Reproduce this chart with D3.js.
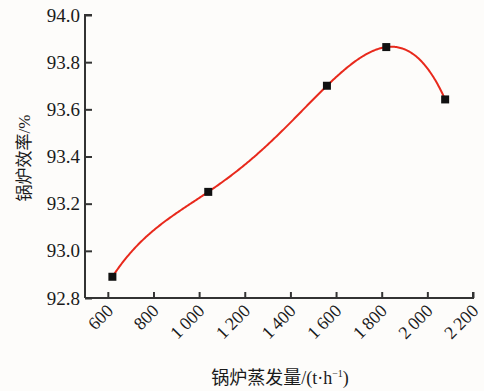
<!DOCTYPE html>
<html lang="zh">
<head>
<meta charset="UTF-8">
<title>锅炉效率</title>
<script src="https://d3js.org/d3.v7.min.js"></script>
<style>
    body { margin: 0; background: #fdfcfa; }
    svg text { font-family: "Liberation Serif", "Times New Roman", serif; fill: #1a1a1a; }
    svg text.cjk { font-family: "Liberation Serif", "Noto Sans CJK SC", serif; }
</style>
</head>
<body>
<script>
    // data
    const steam = [620, 1040, 1560, 1820, 2078]
    const efficiency = [92.89, 93.25, 93.70, 93.864, 93.642]
    const xTicks = [600, 800, 1000, 1200, 1400, 1600, 1800, 2000, 2200]
    const yTicks = [92.8, 93.0, 93.2, 93.4, 93.6, 93.8, 94.0]

    const width = 484, height = 391
    const plot = { left: 85, right: 473, top: 15, bottom: 298 }

    const x = d3.scaleLinear().domain([500, 2200]).range([plot.left, plot.right])
    const y = d3.scaleLinear().domain([92.8, 94.0]).range([plot.bottom, plot.top])

    const fmtX = d => d >= 1000 ? Math.floor(d / 1000) + "\u2009" + d3.format("03d")(d % 1000) : d

    // curve factory: one polynomial through all the points (like the source plot)
    function curvePoly(context) {
        let pts = []
        return {
            lineStart() { pts = [] },
            lineEnd() {
                const n = pts.length
                const f = t => {
                    let s = 0
                    for (let i = 0; i < n; i++) {
                        let l = 1
                        for (let j = 0; j < n; j++) if (j !== i) l *= (t - pts[j][0]) / (pts[i][0] - pts[j][0])
                        s += l * pts[i][1]
                    }
                    return s
                }
                const x0 = pts[0][0], x1 = pts[n - 1][0]
                context.moveTo(x0, pts[0][1])
                for (let t = x0 + 1; t < x1; t += 1) context.lineTo(t, f(t))
                context.lineTo(x1, pts[n - 1][1])
            },
            point(px, py) { pts.push([px, py]) },
            areaStart() {}, areaEnd() {}
        }
    }

    const svg = d3.select("body").append("svg")
        .attr("width", width)
        .attr("height", height)

    svg.append("rect").attr("width", width).attr("height", height).attr("fill", "#fdfcfa")

    const data = steam.map((s, i) => ({ s: s, e: efficiency[i] }))

    const line = d3.line()
        .x(d => x(d.s))
        .y(d => y(d.e))
        .curve(curvePoly)

    svg.append("path")
        .attr("d", line(data))
        .attr("fill", "none")
        .attr("stroke", "#e8291c")
        .attr("stroke-width", 2)

    svg.selectAll("rect.pt").data(data).enter().append("rect")
        .attr("class", "pt")
        .attr("x", d => x(d.s) - 4)
        .attr("y", d => y(d.e) - 4)
        .attr("width", 8)
        .attr("height", 8)
        .attr("fill", "#111")

    // x axis
    const xAxis = svg.append("g")
        .attr("transform", "translate(0," + plot.bottom + ")")
        .call(d3.axisBottom(x).tickValues(xTicks).tickSizeInner(-6).tickSizeOuter(0).tickFormat(fmtX))
    xAxis.select(".domain").attr("stroke", "#333").attr("stroke-width", 2)
        .attr("d", "M" + plot.left + ",0H" + plot.right + "V-6")
    xAxis.selectAll(".tick line").attr("stroke", "#333").attr("stroke-width", 2)
    xAxis.selectAll(".tick text")
        .attr("font-size", 18)
        .attr("text-anchor", "end")
        .attr("dy", null)
        .attr("y", 0)
        .attr("transform", "translate(6,14) rotate(-45)")

    // y axis
    const yAxis = svg.append("g")
        .attr("transform", "translate(" + plot.left + ",0)")
        .call(d3.axisLeft(y).tickValues(yTicks).tickSizeInner(-7).tickSizeOuter(0).tickFormat(d3.format(".1f")))
    yAxis.select(".domain").attr("stroke", "#333").attr("stroke-width", 2)
        .attr("d", "M7," + plot.top + "H0V" + plot.bottom)
    yAxis.selectAll(".tick line").attr("stroke", "#333").attr("stroke-width", 2)
    yAxis.selectAll(".tick text")
        .attr("font-size", 19)
        .attr("x", -5)

    svg.append("text")
        .attr("class", "cjk")
        .attr("transform", "translate(30,158) rotate(-90)")
        .attr("text-anchor", "middle")
        .attr("font-size", 17)
        .text("锅炉效率/%")

    const xt = svg.append("text")
        .attr("class", "cjk")
        .attr("x", 280)
        .attr("y", 384)
        .attr("text-anchor", "middle")
        .attr("font-size", 18)
    xt.append("tspan").text("锅炉蒸发量/(t·h")
    xt.append("tspan").attr("font-size", 10).attr("dy", -7).text("−1")
    xt.append("tspan").attr("dy", 7).text(")")
</script>
</body>
</html>
